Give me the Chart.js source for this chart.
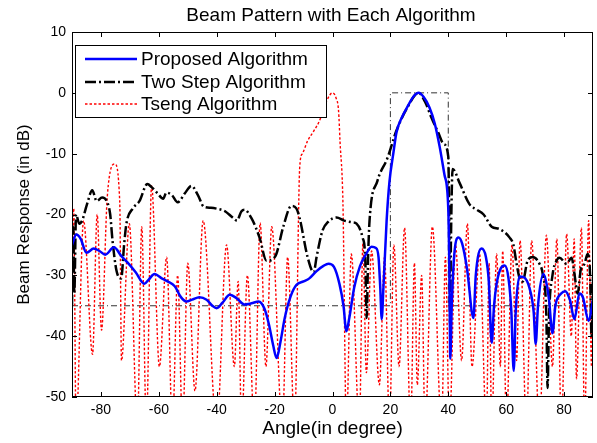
<!DOCTYPE html>
<html>
<head>
<meta charset="utf-8">
<script src="https://cdn.jsdelivr.net/npm/chart.js@4.4.1/dist/chart.umd.min.js"></script>
<style>
  html, body { margin: 0; padding: 0; background: #fff; }
</style>
</head>
<body>
<canvas id="chart" width="597" height="443"></canvas>
<script>
const FONT = "'Liberation Sans', Arial, Helvetica, sans-serif";

const xTickValues = [-80, -60, -40, -20, 0, 20, 40, 60, 80];
const yTickValues = [-50, -40, -30, -20, -10, 0, 10];

// Proposed Algorithm (blue, solid)
const proposedAngles = [-90, -88.5, -87, -85, -82.5, -80.5, -78.5, -75.5, -73, -71, -68, -65, -63.5, -61.5, -59, -57,
  -54.5, -52.5, -50.5, -48.5, -46, -43.5, -41.5, -40, -38, -35.5, -33, -30.5, -28, -25.5, -23.5, -22, -20.5, -19.3,
  -18, -16.5, -14.5, -12.5, -10, -8, -5.5, -3, -1.4, 0.5, 2.4, 3.8, 4.8, 5.8, 7.5, 9.5, 11.5, 13.5, 15, 15.9, 16.5,
  17, 17.6, 18.7, 19.7, 21, 22.1, 24, 26, 28, 29.8, 31.5, 33.5, 35.3, 37, 38.7, 40, 40.4, 40.7, 41.2, 42, 43.5, 44.8,
  46.5, 48.7, 49.5, 51.5, 53, 54, 55, 55.8, 56.7, 58, 59.5, 60.8, 61.8, 62.6, 63.3, 64.6, 66, 68, 69.5, 70.2, 71,
  72.9, 74, 74.8, 76, 77, 79, 80.4, 82, 83.6, 85.3, 86.5, 88.5, 90];
const proposedDb = [-25, -23.3, -24, -26.3, -25.6, -26, -26.6, -25.4, -26.8, -27.8, -29.5, -31.4, -30.7, -29.8, -30.5, -31,
  -31.8, -33.5, -34.3, -34, -33.6, -34, -35, -35.4, -34.5, -33.2, -33.8, -34.8, -34.6, -34.3, -35.5, -38, -41.5, -43.6,
  -41, -37, -33.5, -31.6, -31, -30.5, -29.3, -28.4, -28.1, -28.6, -31.4, -35, -39.2, -37, -32, -28.5, -26.6, -25.3, -25.5, -27, -32,
  -37.2, -32, -21, -14.5, -10, -6.5, -4, -2.2, -0.6, 0, -0.7, -2.4, -5, -8.8, -13.5, -19, -30, -43.7, -35, -27, -23.8, -24.8,
  -29, -37, -30, -25.6, -27, -31, -41.1, -35, -31.4, -29, -28.4, -30.5, -36, -45.7, -36, -30.2, -30.3, -32, -36, -41.3, -35,
  -29.8, -31.5, -34, -39.5, -35, -33, -32.6, -34, -37.2, -33, -33.6, -37.5, -34];

// Two Step Algorithm (black, dash-dot)
const twoStepAngles = [-90, -89.6, -89.2, -88.6, -87.5, -86.5, -84.8, -83, -81.5, -79.6, -77.7, -76.8, -76, -74.6, -73,
  -72, -71.2, -69, -66.7, -64, -62.5, -60.5, -58.5, -57.4, -55.5, -53.5, -51, -48.7, -46.5, -44.5, -42, -39.5, -37,
  -34.5, -33, -31.5, -30.4, -28, -25.2, -22.8, -20.5, -19.4, -17, -14.2, -12.5, -11.4, -8.6, -6.5, -5.5, -3.5, -1.5,
  1.4, 4, 7, 8.3, 10.4, 11.3, 11.8, 12.3, 12.8, 15.5, 19, 22.1, 25.9, 29.7, 32, 34.2, 36.5, 38.4, 40, 40.4, 40.6, 40.9,
  41.5, 43.9, 47.3, 49.8, 52.2, 55, 57.7, 61.2, 62.5, 63.6, 64.6, 65.7, 67.4, 69.1, 71.5, 72.7, 73.9, 74.3, 74.8, 76,
  77.4, 78.4, 80.9, 82.6, 83.6, 84.7, 85.8, 87.1, 88.1, 89, 89.5, 90];
const twoStepDb = [-35, -22, -33, -20, -21.5, -21, -18.3, -16, -17.8, -17.2, -18.1, -20, -24.3, -29.3, -30.5,
  -25, -21.5, -19, -17.8, -15, -15.5, -16.5, -17.4, -16.4, -16.8, -18, -16.5, -15.3, -16.8, -18.7, -18.9, -19.1, -19.5,
  -20.5, -21, -19.5, -19.2, -20.6, -23.8, -27.6, -27.3, -26.5, -22, -18.6, -19, -20.5, -27, -29.5, -27, -22.7, -21.2,
  -20.5, -21, -21.3, -21.5, -23.8, -27, -37, -27, -21, -14.5, -10.7, -6.2, -2.4, 0, -1.5, -4.1, -6.5, -8.4, -10.5, -25, -38, -25,
  -12.5, -14.8, -18.3, -19.2, -20, -22, -22.4, -23.8, -25, -28.1, -30.4, -31, -27.6, -27, -28.1, -30, -37, -48.5, -37, -30,
  -27.6, -27.1, -28.1, -27.1, -29.8, -33, -29, -28.1, -26.5, -30, -40, -30];

// Tseng Algorithm (red, dotted)
const tsengAngles = [-90, -89.4, -88.6, -86, -82.9, -81.3, -79.8, -77.8, -75.2, -73.5, -72.9, -70.2, -67.4, -65.9, -64.3,
  -62.5, -59.8, -57.3, -55.3, -53.5, -51.8, -50, -47.5, -44.7, -40, -36.6, -33.9, -32.6, -31.4, -29.4, -27, -25, -23,
  -21, -17.3, -15.5, -13.1, -11.3, -10.4, -8.6, -6.5, -4.5, -2, 0, 1.2, 2.1, 2.6, 3.6, 4.8, 6.5, 9.3, 10.5, 11.7, 13.5,
  16.2, 18, 19.7, 21.2, 23, 24.9, 27, 28.3, 29.3, 30.8, 32, 34.5, 37.7, 39, 40.4, 42.5, 44.6, 46.6, 48.2, 50.8, 53.2,
  54.1, 55, 56.7, 58, 58.8, 60.1, 62, 63.6, 64.8, 67, 68.8, 71.5, 73.9, 76, 77.5, 79.1, 80.9, 82.5, 83.5, 84.3, 86,
  87.1, 88.5, 89.5, 90];
const tsengDb = [-30, -19, -55, -21, -43, -20, -39, -17, -11.7, -18, -44, -21.5, -55, -22, -55,
  -15.3, -45, -27, -55, -30, -55, -28, -49, -21, -55, -25, -45, -31, -55, -30, -55, -21.4, -45,
  -22, -55, -27, -55, -12, -10, -7.9, -6.3, -4.6, -1.3, 0, -0.8, -3, -8, -18, -55, -26.5, -55, -24.8, -46, -26,
  -48, -27, -55, -25, -45, -22.2, -55, -28, -48, -30, -55, -22, -55, -27, -55, -25, -44, -21.5, -45, -26.5, -55,
  -28, -55, -26.5, -45, -26, -55, -25, -44, -24.3, -55, -24.3, -55, -23.4, -45, -24, -55, -23.2, -40, -24, -47, -22.2,
  -55, -21, -45, -25];

// desired response mask (thin dash-dot)
const maskAngles = [-90, 20, 20, 40, 40, 90];
const maskDb = [-35, -35, 0, 0, -35, -35];

const legendLabels = ["Proposed Algorithm", "Two Step Algorithm", "Tseng Algorithm"];

const toPoints = (xs, ys) => xs.map((x, i) => ({ x: x, y: ys[i] }));

const styles = [
  { color: "#0000ff", width: 2.5, dash: [] },
  { color: "#000000", width: 2.5, dash: [11, 3, 2, 3] },
  { color: "#ff0000", width: 1.4, dash: [2.5, 2] },
];

const axesBox = {
  id: "axesBox",
  afterDatasetsDraw(chart) {
    const { ctx, chartArea: a, scales: { x, y } } = chart;
    ctx.save();
    ctx.strokeStyle = "#000";
    ctx.lineWidth = 1;
    ctx.beginPath();
    xTickValues.forEach((v) => {
      const px = Math.round(x.getPixelForValue(v)) + 0.5;
      ctx.moveTo(px, a.bottom); ctx.lineTo(px, a.bottom - 5);
      ctx.moveTo(px, a.top); ctx.lineTo(px, a.top + 5);
    });
    yTickValues.forEach((v) => {
      const py = Math.round(y.getPixelForValue(v)) + 0.5;
      ctx.moveTo(a.left, py); ctx.lineTo(a.left + 5, py);
      ctx.moveTo(a.right, py); ctx.lineTo(a.right - 5, py);
    });
    ctx.stroke();
    ctx.strokeRect(Math.round(a.left) + 0.5, Math.round(a.top) + 0.5,
      Math.round(a.right - a.left) - 1, Math.round(a.bottom - a.top) - 1);

    // legend
    const lx = 75.5, ly = 45.5, lw = 251, lh = 72;
    ctx.fillStyle = "#fff";
    ctx.fillRect(lx, ly, lw, lh);
    ctx.strokeRect(lx, ly, lw, lh);
    const rows = [59, 82, 104];
    legendLabels.forEach((label, i) => {
      const s = styles[i];
      ctx.beginPath();
      ctx.strokeStyle = s.color;
      ctx.lineWidth = s.width;
      ctx.setLineDash(s.dash);
      ctx.moveTo(85, rows[i]);
      ctx.lineTo(137, rows[i]);
      ctx.stroke();
      ctx.setLineDash([]);
      ctx.fillStyle = "#000";
      ctx.font = "19px " + FONT;
      ctx.textAlign = "left";
      ctx.textBaseline = "middle";
      ctx.fillText(label, 141, rows[i] + 1);
    });

    // title
    ctx.font = "19px " + FONT;
    ctx.textAlign = "center";
    ctx.textBaseline = "middle";
    ctx.fillText("Beam Pattern with Each Algorithm", 331, 16);
    ctx.restore();
  },
};

const config = {
  type: "line",
  data: {
    datasets: [
      {
        label: legendLabels[0],
        data: toPoints(proposedAngles, proposedDb),
        borderColor: styles[0].color,
        borderWidth: styles[0].width,
        cubicInterpolationMode: "monotone",
        pointRadius: 0,
        order: 1,
      },
      {
        label: legendLabels[1],
        data: toPoints(twoStepAngles, twoStepDb),
        borderColor: styles[1].color,
        borderWidth: styles[1].width,
        borderDash: styles[1].dash,
        cubicInterpolationMode: "monotone",
        pointRadius: 0,
        order: 2,
      },
      {
        label: legendLabels[2],
        data: toPoints(tsengAngles, tsengDb),
        borderColor: styles[2].color,
        borderWidth: styles[2].width,
        borderDash: styles[2].dash,
        cubicInterpolationMode: "monotone",
        pointRadius: 0,
        order: 3,
      },
      {
        label: "mask",
        data: toPoints(maskAngles, maskDb),
        borderColor: "#333",
        borderWidth: 1,
        borderDash: [6, 3, 1, 3],
        pointRadius: 0,
        order: 4,
      },
    ],
  },
  options: {
    responsive: false,
    animation: false,
    layout: { padding: { top: 32, right: 4, left: 0, bottom: 0 } },
    scales: {
      x: {
        type: "linear",
        min: -90,
        max: 90,
        afterBuildTicks: (s) => { s.ticks = xTickValues.map((v) => ({ value: v })); },
        afterFit: (s) => { s.height = 46; },
        grid: { display: false, drawTicks: false },
        border: { display: false },
        ticks: { color: "#000", padding: 5, maxRotation: 0, font: { family: FONT, size: 14 } },
        title: {
          display: true,
          text: "Angle(in degree)",
          color: "#000",
          font: { family: FONT, size: 19 },
          padding: { top: 0, bottom: 3 },
        },
      },
      y: {
        type: "linear",
        min: -50,
        max: 10,
        afterBuildTicks: (s) => { s.ticks = yTickValues.map((v) => ({ value: v })); },
        afterFit: (s) => { s.width = 72; },
        grid: { display: false, drawTicks: false },
        border: { display: false },
        ticks: { color: "#000", padding: 6, font: { family: FONT, size: 14 } },
        title: {
          display: true,
          text: "Beam Response (in dB)",
          color: "#000",
          font: { family: FONT, size: 17 },
          padding: { top: 14, bottom: 0 },
        },
      },
    },
    plugins: {
      legend: { display: false },
      tooltip: { enabled: false },
      title: { display: false },
    },
  },
  plugins: [axesBox],
};

new Chart(document.getElementById("chart"), config);
</script>
</body>
</html>
